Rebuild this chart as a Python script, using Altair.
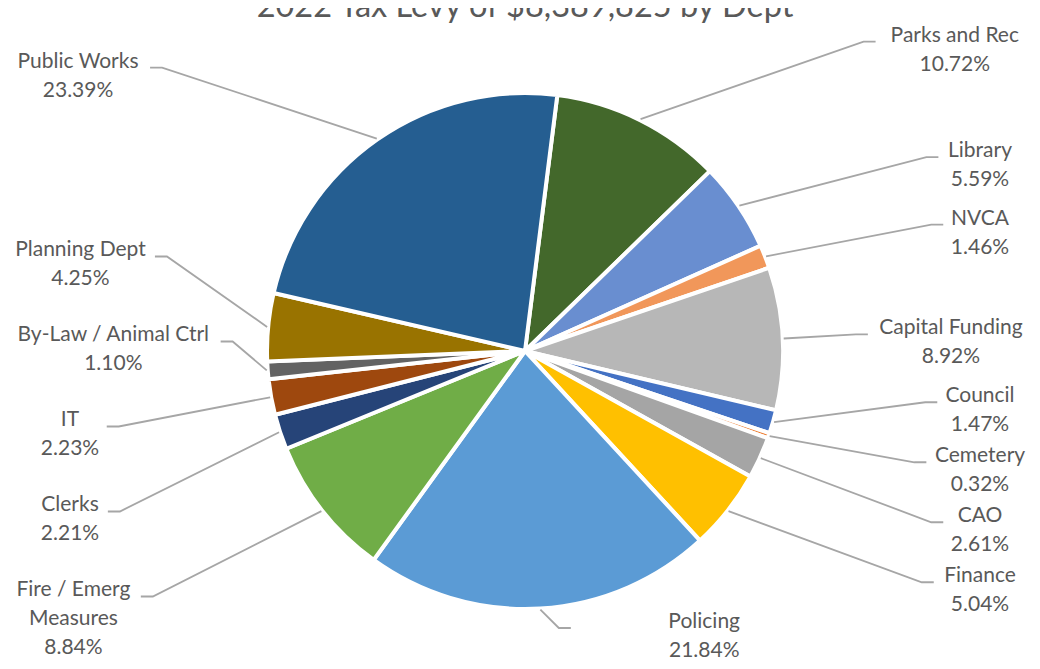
import math
import altair as alt
import pandas as pd

# ---------------- data ----------------
title_text = "2022 Tax Levy of $8,389,825 by Dept"
names = ["Parks and Rec", "Library", "NVCA", "Capital Funding", "Council",
         "Cemetery", "CAO", "Finance", "Policing", "Fire / Emerg Measures",
         "Clerks", "IT", "By-Law / Animal Ctrl", "Planning Dept", "Public Works"]
display_names = ["Parks and Rec", "Library", "NVCA", "Capital Funding", "Council",
                 "Cemetery", "CAO", "Finance", "Policing", "Fire / Emerg\nMeasures",
                 "Clerks", "IT", "By-Law / Animal Ctrl", "Planning Dept", "Public Works"]
values = [10.72, 5.59, 1.46, 8.92, 1.47, 0.32, 2.61, 5.04, 21.84, 8.84,
          2.21, 2.23, 1.10, 4.25, 23.39]
colors = ["#43682B", "#698ED0", "#F1975A", "#B7B7B7", "#4472C4", "#ED7D31",
          "#A5A5A5", "#FFC000", "#5B9BD5", "#70AD47", "#264478", "#9E480E",
          "#636363", "#997300", "#255E91"]

# ---------------- layout / style ----------------
W, H = 1000, 650
CX, CY = 500, 343          # pie centre inside the plot area
R = 256
START = math.radians(7.2)
FONT = "Lato"
FS = 21
TITLE_FS = 32.5
LINE_H = 29
FONT_FACTOR = 1.05
TEXT_COLOR = "#595959"
LEADER_COLOR = "#A6A6A6"
K_RADIAL = 1.35
GAP = {1: 60, -1: 85}
TOP, BOTTOM = 28, 620

WIDTHS = {}
for ch in "iljI.,:;!|'":
    WIDTHS[ch] = 0.23
for ch in " ft/":
    WIDTHS[ch] = 0.28
WIDTHS.update({"r": 0.34, "-": 0.33, "%": 0.89, "m": 0.83, "w": 0.72, "W": 0.94})
for ch in "0123456789$":
    WIDTHS[ch] = 0.556


def text_w(s):
    return sum(WIDTHS.get(ch, 0.67 if ch.isupper() else 0.55) for ch in s) * FS * FONT_FACTOR


def spread(ideals, gap, lo, hi):
    order = sorted(range(len(ideals)), key=lambda i: ideals[i])
    clusters = [[i] for i in order]

    def place(cl):
        n = len(cl)
        st = sum(ideals[i] - k * gap for k, i in enumerate(cl)) / n
        return max(lo, min(hi - (n - 1) * gap, st))

    changed = True
    while changed:
        changed = False
        starts = [place(c) for c in clusters]
        for j in range(len(clusters) - 1):
            end_j = starts[j] + (len(clusters[j]) - 1) * gap
            if end_j + gap > starts[j + 1] + 1e-9:
                clusters[j] = clusters[j] + clusters[j + 1]
                del clusters[j + 1]
                changed = True
                break
    out = {}
    for c in clusters:
        s0 = place(c)
        for k, i in enumerate(c):
            out[i] = s0 + k * gap
    return [out[i] for i in range(len(ideals))]


total = sum(values)
mids = []
cum = 0.0
for v in values:
    a0 = START + 2 * math.pi * cum / total
    cum += v
    a1 = START + 2 * math.pi * cum / total
    mids.append((a0 + a1) / 2)

labels = []
for i, m in enumerate(mids):
    s, c = math.sin(m), math.cos(m)
    lines = display_names[i].split("\n") + [f"{values[i]:.2f}%"]
    labels.append(dict(i=i, s=s, c=c, side=1 if s >= 0 else -1,
                       vertical=abs(s) < 0.2, lines=lines,
                       hw=max(text_w(l) for l in lines) / 2,
                       ideal=CY - K_RADIAL * R * c))

for side in (1, -1):
    grp = [l for l in labels if l["side"] == side and not l["vertical"]]
    yy = spread([l["ideal"] for l in grp], GAP[side], TOP, BOTTOM)
    for l, y in zip(grp, yy):
        l["ey"] = y
for l in labels:
    if l["vertical"]:
        l["ey"] = max(TOP, min(BOTTOM, l["ideal"]))

leader_rows, text_rows = [], []
for l in labels:
    side, hw, ey = l["side"], l["hw"], l["ey"]
    ax = CX + (R + 3) * l["s"]
    ay = CY - (R + 3) * l["c"]
    if l["vertical"]:
        xc = CX + side * 0.7 * R
        e0 = ax + side * abs(ey - ay)
        e1 = e0 + side * 12
    elif side == 1:
        xc = min(955, 1003 - hw)
        e1 = xc - hw - 6
        e0 = e1 - 12
    else:
        xc = max(45, -13 + hw)
        e1 = xc + hw + 6
        e0 = e1 + 12
    for k, (px, py) in enumerate([(ax, ay), (e0, ey), (e1, ey)]):
        leader_rows.append({"id": l["i"], "pt": k, "x": px, "y": py})
    for j, line in enumerate(l["lines"]):
        text_rows.append({"id": l["i"], "text": line, "x": xc, "y": ey - 6 + LINE_H * j})

pie_df = pd.DataFrame({"name": names, "value": values, "idx": list(range(len(names)))})
leader_df = pd.DataFrame(leader_rows)
text_df = pd.DataFrame(text_rows)

xs = alt.Scale(domain=[0, W], range=[0, W], nice=False)
ys = alt.Scale(domain=[0, H], range=[0, H], nice=False)

arcs = alt.Chart(pie_df).mark_arc(outerRadius=R + 2, stroke="white", strokeWidth=4).encode(
    x=alt.XDatum(CX, type="quantitative", scale=xs, axis=None),
    y=alt.YDatum(CY, type="quantitative", scale=ys, axis=None),
    theta=alt.Theta("value:Q", stack=True, scale=alt.Scale(range=[START, START + 2 * math.pi])),
    color=alt.Color("name:N", scale=alt.Scale(domain=names, range=colors), legend=None),
    order=alt.Order("idx:Q"),
)
leaders = alt.Chart(leader_df).mark_line(color=LEADER_COLOR, strokeWidth=1.8).encode(
    x=alt.X("x:Q", scale=xs, axis=None),
    y=alt.Y("y:Q", scale=ys, axis=None),
    detail="id:N",
    order="pt:Q",
)
texts = alt.Chart(text_df).mark_text(font=FONT, fontSize=FS, color=TEXT_COLOR,
                                     align="center", baseline="middle").encode(
    x=alt.X("x:Q", scale=xs, axis=None),
    y=alt.Y("y:Q", scale=ys, axis=None),
    text="text:N",
)

chart = alt.layer(arcs, leaders, texts).properties(
    width=W, height=H,
    title=alt.Title(title_text, font=FONT, fontSize=TITLE_FS, fontWeight="normal",
                    color=TEXT_COLOR, anchor="middle", offset=0, baseline="alphabetic",
                    frame="group", dy=41),
    padding={"left": 17, "top": 0, "right": 7, "bottom": 3},
    autosize=alt.AutoSizeParams(type="none"),
).configure_view(stroke=None)

chart.save("out.html", embed_options={"renderer": "svg", "actions": False})
